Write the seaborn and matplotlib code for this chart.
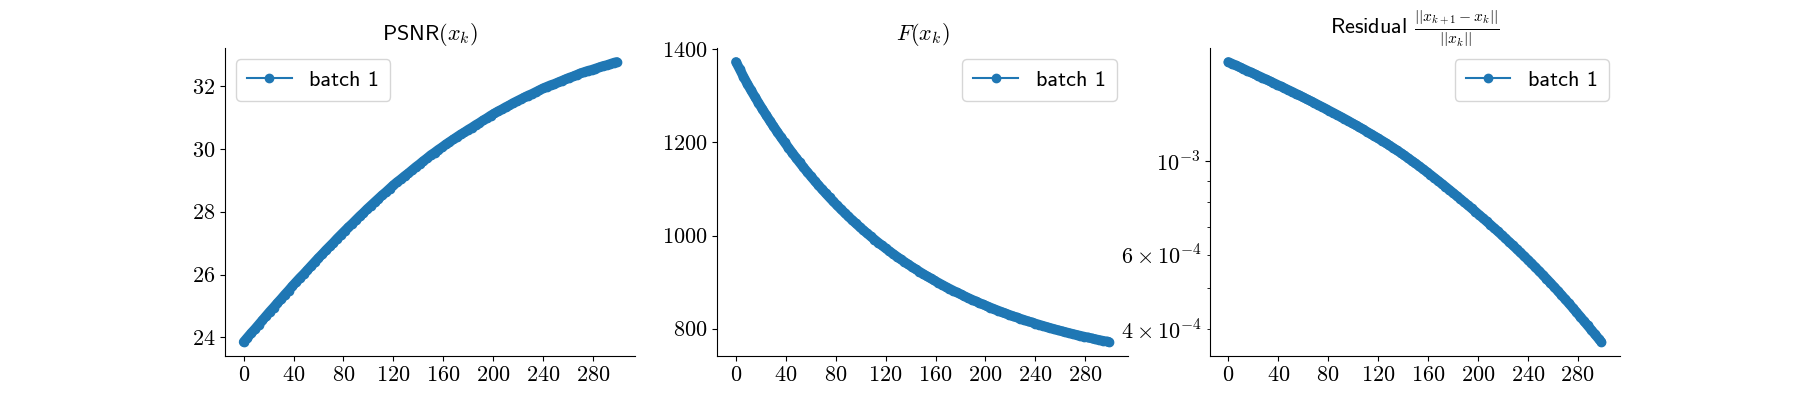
import matplotlib
matplotlib.use("Agg")
import numpy as np
import matplotlib.pyplot as plt
import seaborn as sns
from matplotlib.lines import Line2D
from matplotlib.ticker import MultipleLocator, StrMethodFormatter, LogFormatterSciNotation

# iterations (every 3rd iterate, plus the last one)
iterations = list(range(0, 300, 3)) + [299]

psnr = [23.85, 23.99, 24.13, 24.26, 24.40, 24.54, 24.68, 24.82, 24.95, 25.09, 25.22, 25.36, 25.49, 25.63,
        25.76, 25.89, 26.01, 26.14, 26.27, 26.40, 26.53, 26.65, 26.78, 26.90, 27.02, 27.15, 27.27,
        27.39, 27.51, 27.62, 27.74, 27.86, 27.97, 28.09, 28.20, 28.31, 28.42, 28.53, 28.63, 28.74,
        28.85, 28.95, 29.04, 29.14, 29.23, 29.33, 29.43, 29.52, 29.62, 29.71, 29.81, 29.89, 29.98, 30.06,
        30.15, 30.23, 30.31, 30.39, 30.47, 30.54, 30.62, 30.69, 30.77, 30.84, 30.92, 30.99, 31.07,
        31.14, 31.21, 31.27, 31.34, 31.40, 31.47, 31.53, 31.59, 31.65, 31.71, 31.76, 31.82, 31.88, 31.94,
        31.99, 32.04, 32.08, 32.13, 32.18, 32.23, 32.28, 32.32, 32.37, 32.42, 32.46, 32.50, 32.53,
        32.57, 32.61, 32.65, 32.68, 32.72, 32.76, 32.78]

objective = [1373.0, 1357.5, 1341.5, 1326.6, 1312.4, 1298.8, 1285.4, 1272.4, 1259.7, 1247.2, 1235.0,
             1223.1, 1211.5, 1200.1, 1189.0, 1178.1, 1167.5, 1157.1, 1146.9, 1137.0, 1127.3, 1117.8,
             1108.5, 1099.4, 1090.5, 1081.8, 1073.3, 1065.0, 1056.9, 1049.0, 1041.2, 1033.6, 1026.2,
             1018.9, 1011.8, 1004.9, 998.1, 991.5, 985.0, 978.7, 972.5, 966.4, 960.5, 954.7, 949.0,
             943.5, 938.1, 932.8, 927.6, 922.5, 917.6, 912.7, 908.0, 903.4, 898.9, 894.5, 890.1, 885.9,
             881.8, 877.7, 873.8, 869.9, 866.1, 862.4, 858.8, 855.3, 851.8, 848.5, 845.2, 841.9, 838.8,
             835.7, 832.7, 829.7, 826.8, 824.0, 821.3, 818.6, 815.9, 813.4, 810.8, 808.4, 806.0, 803.6,
             801.3, 799.0, 796.8, 794.7, 792.6, 790.5, 788.5, 786.5, 784.6, 782.7, 780.9, 779.1, 777.3,
             775.6, 773.9, 772.3, 771.2]

# residual in units of 1e-4
residual_e4 = [17.22, 17.06, 16.90, 16.74, 16.59, 16.43, 16.27, 16.12, 15.97, 15.82, 15.66, 15.52, 15.37, 15.22,
               15.07, 14.93, 14.78, 14.64, 14.49, 14.35, 14.20, 14.05, 13.91, 13.77, 13.62, 13.48, 13.34,
               13.19, 13.05, 12.91, 12.77, 12.63, 12.49, 12.34, 12.20, 12.06, 11.92, 11.77, 11.63, 11.49,
               11.35, 11.21, 11.07, 10.92, 10.78, 10.63, 10.49, 10.34, 10.19, 10.04, 9.895, 9.745, 9.596, 9.447,
               9.298, 9.150, 9.003, 8.857, 8.714, 8.570, 8.428, 8.287, 8.149, 8.011, 7.874, 7.739, 7.605,
               7.471, 7.340, 7.209, 7.081, 6.952, 6.825, 6.699, 6.574, 6.449, 6.327, 6.204, 6.084, 5.966, 5.848,
               5.731, 5.614, 5.499, 5.384, 5.270, 5.157, 5.044, 4.933, 4.822, 4.712, 4.604, 4.497, 4.390,
               4.286, 4.182, 4.081, 3.983, 3.886, 3.791, 3.729]
residual = np.array(residual_e4) * 1e-4

titles = [r'PSNR$(x_k)$', r'$F(x_k)$', r'Residual $\frac{||x_{k+1}-x_k||}{||x_k||}$']
series_label = 'batch 1'
color = '#1f77b4'

plt.rcParams['font.family'] = ['cmss10', 'DejaVu Sans']
plt.rcParams['mathtext.fontset'] = 'cm'
plt.rcParams['axes.unicode_minus'] = False


class CMLogFormatter(LogFormatterSciNotation):
    # same labels as the default log formatter but drawn in the math font
    def __call__(self, x, pos=None):
        return super().__call__(x, pos).replace(r'\mathdefault', '')


def draw(ax, y, title, legend_loc):
    # dense iterates overlap into one thick band: line as wide as the markers
    sns.lineplot(x=iterations, y=y, ax=ax, marker='o', markersize=6, color=color,
                 markeredgecolor=color, markeredgewidth=1.0, linewidth=7,
                 solid_capstyle='round', solid_joinstyle='round', legend=False)
    ax.set_title(title, fontsize=16)
    handle = Line2D([], [], color=color, marker='o', markersize=6, linewidth=1.5)
    ax.legend([handle], [series_label], loc=legend_loc, fontsize=16, borderpad=0.5)
    ax.xaxis.set_major_locator(MultipleLocator(40))
    ax.xaxis.set_major_formatter(StrMethodFormatter(r'${x:.0f}$'))
    ax.tick_params(labelsize=16)
    sns.despine(ax=ax)


fig, axes = plt.subplots(1, 3, figsize=(18, 4), dpi=100)

draw(axes[0], psnr, titles[0], 'upper left')
axes[0].yaxis.set_major_locator(MultipleLocator(2))
axes[0].yaxis.set_major_formatter(StrMethodFormatter(r'${x:.0f}$'))

draw(axes[1], objective, titles[1], 'upper right')
axes[1].yaxis.set_major_locator(MultipleLocator(200))
axes[1].yaxis.set_major_formatter(StrMethodFormatter(r'${x:.0f}$'))

draw(axes[2], residual, titles[2], 'upper right')
axes[2].set_yscale('log')
axes[2].yaxis.set_major_formatter(CMLogFormatter())
axes[2].yaxis.set_minor_formatter(CMLogFormatter(labelOnlyBase=False))
axes[2].tick_params(which='both', labelsize=16)

for ax in axes:
    ax.set_xlabel('')
    ax.set_ylabel('')

fig.savefig('out.png', dpi=100)
